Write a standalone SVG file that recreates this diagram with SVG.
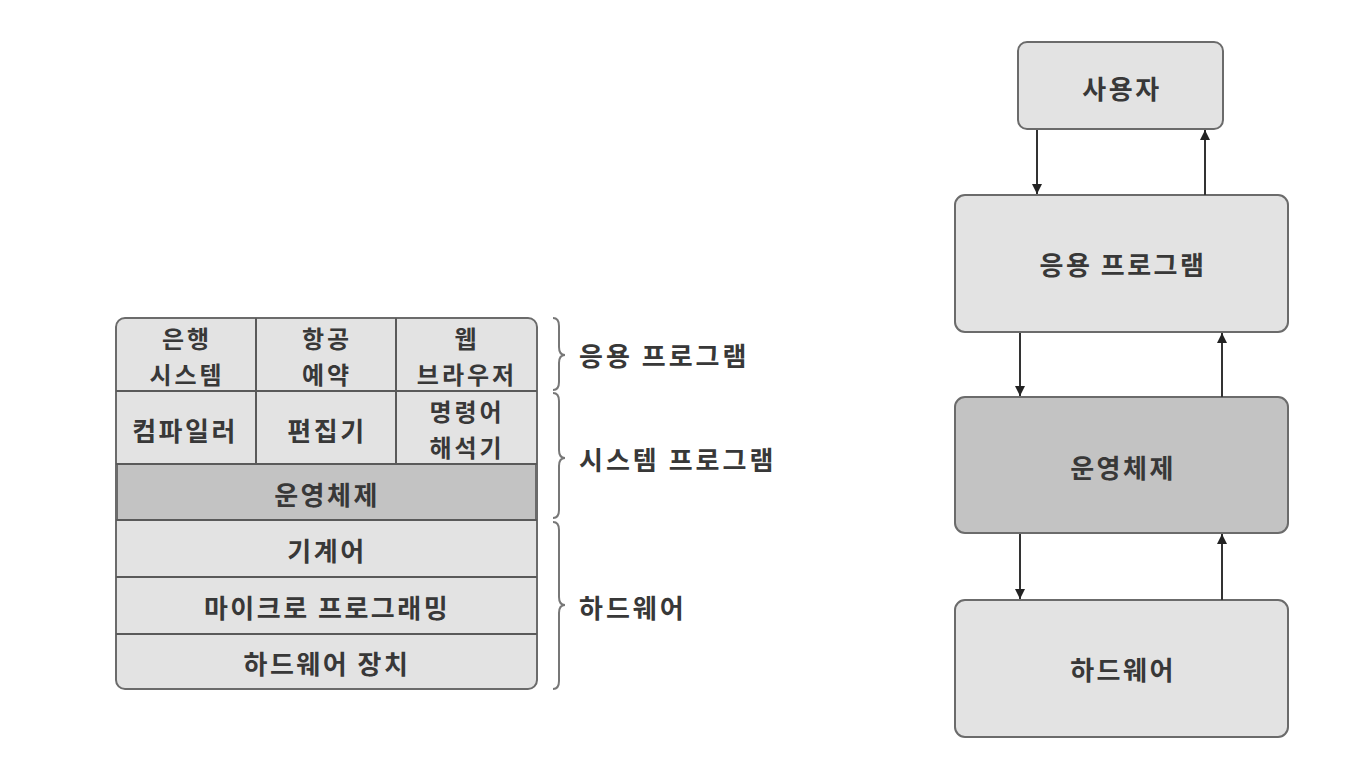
<svg xmlns="http://www.w3.org/2000/svg" width="1366" height="758" viewBox="0 0 1366 758">
<defs>
<style>
.t{font-family:"Noto Sans CJK KR","Noto Sans",sans-serif;font-size:26px;font-weight:700;fill:#383838;text-anchor:middle;dominant-baseline:central;letter-spacing:2.5px}
.t2{font-size:24px;letter-spacing:3px}
.lbl{text-anchor:start;letter-spacing:3px}
.box{fill:#e3e3e3;stroke:#6b6b6b;stroke-width:2}
.dark{fill:#c3c3c3}
.ln{stroke:#5a5a5a;stroke-width:2;fill:none}
.br{stroke:#777;stroke-width:2;fill:none}
.ar{stroke:#333;stroke-width:2;fill:none;marker-end:url(#ah)}
</style>
<marker id="ah" viewBox="0 0 10 10" refX="10" refY="5" markerWidth="5" markerHeight="5" orient="auto" markerUnits="strokeWidth">
<path d="M0,0 L10,5 L0,10 z" fill="#222"/>
</marker>
</defs>
<rect width="1366" height="758" fill="#ffffff"/>

<g id="layer-table">
<rect x="116" y="318" width="421" height="371" rx="9" class="box"/>
<rect x="117" y="464" width="419" height="56" class="box dark" stroke="none"/>
<line x1="116" y1="391" x2="537" y2="391" class="ln"/>
<line x1="116" y1="464" x2="537" y2="464" class="ln"/>
<line x1="116" y1="520" x2="537" y2="520" class="ln"/>
<line x1="116" y1="577" x2="537" y2="577" class="ln"/>
<line x1="116" y1="634" x2="537" y2="634" class="ln"/>
<line x1="256" y1="318" x2="256" y2="464" class="ln"/>
<line x1="396" y1="318" x2="396" y2="464" class="ln"/>
</g>

<g id="cell-bank"><text class="t t2" x="187" y="337">은행</text><text class="t t2" x="187" y="373">시스템</text></g>
<g id="cell-air"><text class="t t2" x="327" y="337">항공</text><text class="t t2" x="327" y="373">예약</text></g>
<g id="cell-web"><text class="t t2" x="467" y="337">웹</text><text class="t t2" x="467" y="373">브라우저</text></g>
<g id="cell-compiler"><text class="t" x="185" y="429">컴파일러</text></g>
<g id="cell-editor"><text class="t" x="327" y="429">편집기</text></g>
<g id="cell-shell"><text class="t t2" x="467" y="410">명령어</text><text class="t t2" x="467" y="446">해석기</text></g>
<g id="row-os"><text class="t" x="327" y="493">운영체제</text></g>
<g id="row-machine"><text class="t" x="327" y="549">기계어</text></g>
<g id="row-micro"><text class="t" x="327" y="606">마이크로 프로그래밍</text></g>
<g id="row-hwdev"><text class="t" x="327" y="662">하드웨어 장치</text></g>

<g id="braces">
<path class="br" d="M553,318 Q559,318 559,326 L559,347 Q559,355 565,355 Q559,355 559,363 L559,382 Q559,390 553,390"/>
<path class="br" d="M553,393 Q559,393 559,401 L559,450 Q559,458 565,458 Q559,458 559,466 L559,510 Q559,518 553,518"/>
<path class="br" d="M553,522 Q559,522 559,530 L559,597 Q559,605 565,605 Q559,605 559,613 L559,681 Q559,689 553,689"/>
</g>
<g id="label-app"><text class="t lbl" x="579" y="354">응용 프로그램</text></g>
<g id="label-sys"><text class="t lbl" x="579" y="458">시스템 프로그램</text></g>
<g id="label-hw"><text class="t lbl" x="579" y="606">하드웨어</text></g>

<g id="node-user"><rect x="1018" y="42" width="205" height="87" rx="9" class="box"/><text class="t" x="1122" y="87">사용자</text></g>
<g id="node-app"><rect x="955" y="195" width="333" height="137" rx="10" class="box"/><text class="t" x="1123" y="263">응용 프로그램</text></g>
<g id="node-os"><rect x="955" y="397" width="333" height="136" rx="10" class="box dark"/><text class="t" x="1123" y="466">운영체제</text></g>
<g id="node-hw"><rect x="955" y="600" width="333" height="137" rx="10" class="box"/><text class="t" x="1123" y="668">하드웨어</text></g>

<g id="connectors">
<line x1="1037" y1="130" x2="1037" y2="194" class="ar"/>
<line x1="1205" y1="195" x2="1205" y2="130" class="ar"/>
<line x1="1020" y1="333" x2="1020" y2="396" class="ar"/>
<line x1="1222" y1="397" x2="1222" y2="333" class="ar"/>
<line x1="1020" y1="534" x2="1020" y2="599" class="ar"/>
<line x1="1222" y1="600" x2="1222" y2="534" class="ar"/>
</g>
</svg>
